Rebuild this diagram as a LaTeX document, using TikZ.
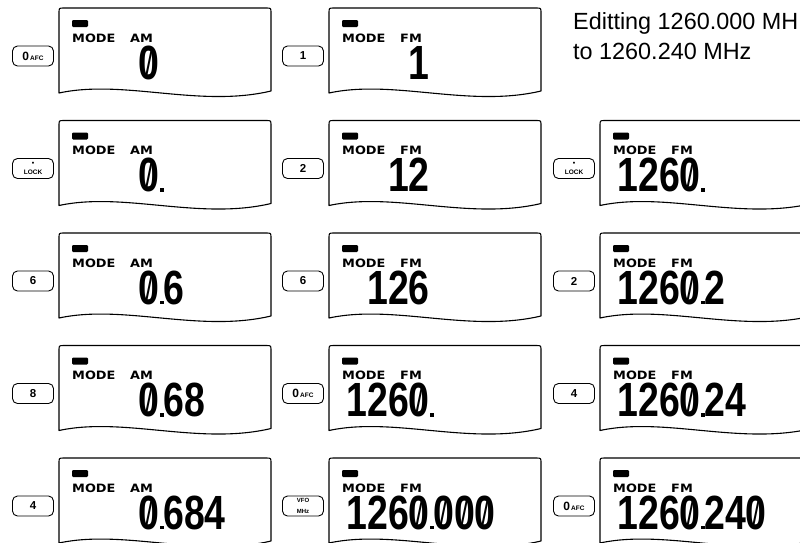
\documentclass[tikz,border=0pt]{standalone}
\usepackage{fontspec}
\usepackage{graphicx}
\setmainfont{Liberation Sans}
\newfontfamily\modefont{DejaVu Sans}
\newcommand\szero{\ooalign{0\cr\hidewidth\raisebox{0.1em}{\scalebox{0.7}[0.72]{\mdseries/}}\hidewidth\cr}}
\newcommand\kafc{{\fontsize{12}{12}\selectfont 0}\hspace{1pt}{\fontsize{6.5}{6.5}\selectfont AFC}}
\newcommand\klock{{\fontsize{7}{7}\selectfont\textbullet}\\[-3pt]{\fontsize{6.5}{6.5}\selectfont LOCK}}
\newcommand\kvfo{{\fontsize{6}{6}\selectfont VFO}\\[-1pt]{\fontsize{6}{6}\selectfont MHz}}
\tikzset{
 lcdbox/.style={draw, line width=1.1pt, line join=round},
 keybox/.style={draw, line width=0.9pt, rounded corners=5pt, minimum width=41pt, minimum height=20pt, inner sep=0pt, align=center, font=\bfseries\fontsize{11.5}{11.5}\selectfont},
 modetxt/.style={anchor=base west, inner sep=0pt, font=\modefont\bfseries\fontsize{11.5}{11.5}\selectfont},
 digit/.style={inner sep=0pt, font=\bfseries\fontsize{48}{48}\selectfont},
 notetxt/.style={anchor=base west, inner sep=0pt, font=\fontsize{23.4}{23.4}\selectfont},
}
\newcommand\lcd[7]{%
 \draw[lcdbox] (#2,#3+85) -- (#2,#3+5) .. controls (#2,#3) .. (#2+5,#3) -- (#2+207,#3) .. controls (#2+212,#3) .. (#2+212,#3+5) -- (#2+212,#3+83) .. controls (#2+140,#3+100) and (#2+65,#3+71) .. (#2,#3+85) -- cycle;
 \fill[rounded corners=1.2pt] (#2+13,#3+12) rectangle (#2+29,#3+19);
 \node[modetxt] (#1-m) at (#2+13,#3+34) {\scalebox{1.12}[1]{MODE}};
 \node[modetxt] (#1-b) at (#2+71,#3+34) {\scalebox{1.12}[1]{#4}};
 \node[digit, anchor=base east] (#1-p) at (#2+101,#3+71) {\scalebox{0.78}[1]{#5}};
 \ifnum#6=1 \fill (#2+101,#3+67.5) rectangle (#2+104.5,#3+71);\fi
 \node[digit, anchor=base west] (#1-q) at (#2+104,#3+71) {\scalebox{0.78}[1]{#7}};
}
\begin{document}
\begin{tikzpicture}[x=1pt,y=-1pt]
\useasboundingbox (0,0) rectangle (800,542);
% column 1
\lcd{a1}{59}{8}{AM}{\szero}{0}{}
\lcd{a2}{59}{120.5}{AM}{\szero}{1}{}
\lcd{a3}{59}{233}{AM}{\szero}{1}{6}
\lcd{a4}{59}{345.5}{AM}{\szero}{1}{68}
\lcd{a5}{59}{458}{AM}{\szero}{1}{684}
\node[keybox] (ka1) at (33,56) {\kafc};
\node[keybox] (ka2) at (33,168.5) {\klock};
\node[keybox] (ka3) at (33,281) {6};
\node[keybox] (ka4) at (33,393.5) {8};
\node[keybox] (ka5) at (33,506) {4};
% column 2
\lcd{b1}{329}{8}{FM}{1}{0}{}
\lcd{b2}{329}{120.5}{FM}{12}{0}{}
\lcd{b3}{329}{233}{FM}{126}{0}{}
\lcd{b4}{329}{345.5}{FM}{126\szero}{1}{}
\lcd{b5}{329}{458}{FM}{126\szero}{1}{\szero\szero\szero}
\node[keybox] (kb1) at (303,56) {1};
\node[keybox] (kb2) at (303,168.5) {2};
\node[keybox] (kb3) at (303,281) {6};
\node[keybox] (kb4) at (303,393.5) {\kafc};
\node[keybox] (kb5) at (303,506) {\kvfo};
% column 3
\lcd{c2}{600}{120.5}{FM}{126\szero}{1}{}
\lcd{c3}{600}{233}{FM}{126\szero}{1}{2}
\lcd{c4}{600}{345.5}{FM}{126\szero}{1}{24}
\lcd{c5}{600}{458}{FM}{126\szero}{1}{24\szero}
\node[keybox] (kc2) at (574,168.5) {\klock};
\node[keybox] (kc3) at (574,281) {2};
\node[keybox] (kc4) at (574,393.5) {4};
\node[keybox] (kc5) at (574,506) {\kafc};
% note
\node[notetxt] (note1) at (573,29) {Editting 1260.000 MH};
\node[notetxt] (note2) at (573,59) {to 1260.240 MHz};
\end{tikzpicture}
\end{document}
